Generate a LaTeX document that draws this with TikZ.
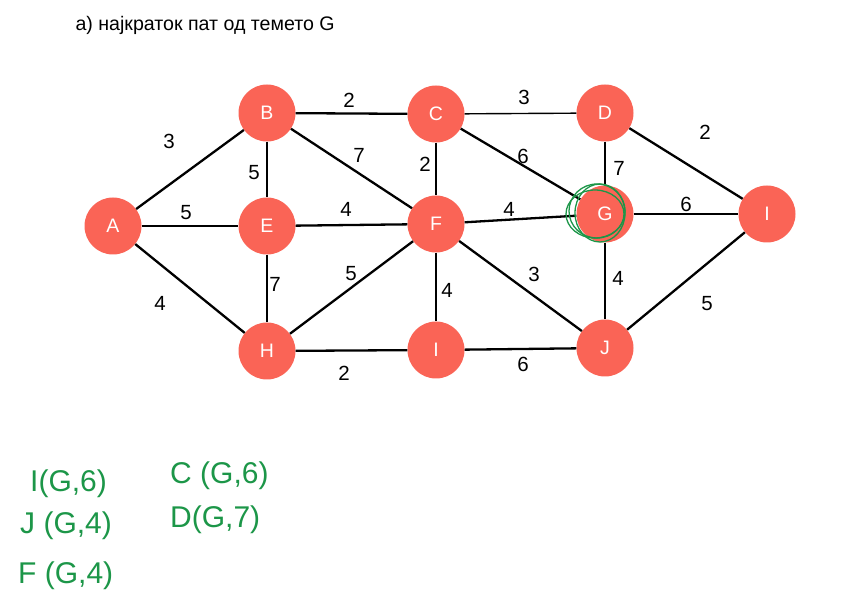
\documentclass[tikz,border=0pt]{standalone}
\usepackage{fontspec}
\setmainfont{Liberation Sans}
\newfontfamily\handfont{Liberation Sans}
\begin{document}
\definecolor{vert}{RGB}{250,100,86}
\definecolor{ink}{RGB}{28,150,72}
\begin{tikzpicture}[x=1pt,y=-1pt,
  vtx/.style={circle,fill=vert,minimum size=57pt,inner sep=0pt,text=white,font=\fontsize{19.5}{19.5}\selectfont},
  heavy/.style={line width=2.3pt},
  light/.style={line width=1.4pt},
  wt/.style={font=\fontsize{20.5}{20.5}\selectfont,inner sep=0pt},
  hand/.style={text=ink,font=\handfont\fontsize{30}{30}\selectfont,inner sep=0pt,anchor=west}]
\useasboundingbox[fill=white] (0,0) rectangle (868,612);
\node[font=\fontsize{19.6}{19.6}\selectfont,anchor=west] (title) at (72,25) {а) најкраток пат од темето G};
% vertices
\node[vtx] (A) at (113,226) {A};
\node[vtx] (B) at (267,113) {B};
\node[vtx] (C) at (436,114) {C};
\node[vtx] (D) at (605,113) {D};
\node[vtx] (E) at (267,226) {E};
\node[vtx] (F) at (436,224) {F};
\node[vtx] (G) at (605,214) {G};
\node[vtx] (I1) at (767,214) {I};
\node[vtx] (H) at (267,351) {H};
\node[vtx] (I2) at (436,350) {I};
\node[vtx] (J) at (605,348) {J};
% edges
\draw[heavy] (A) -- (B);
\draw[heavy] (A) -- (E);
\draw[heavy] (A) -- (H);
\draw[heavy] (B) -- (C);
\draw[heavy] (B) -- (E);
\draw[heavy] (B) -- (F);
\draw[light] (C) -- (D);
\draw[heavy] (C) -- (F);
\draw[heavy] (C) -- (G);
\draw[heavy] (D) -- (I1);
\draw[light] (D) -- (G);
\draw[heavy] (E) -- (F);
\draw[light] (E) -- (H);
\draw[heavy] (F) -- (G);
\draw[heavy] (F) -- (H);
\draw[light] (F) -- (I2);
\draw[heavy] (F) -- (J);
\draw[light] (G) -- (I1);
\draw[light] (G) -- (J);
\draw[heavy] (H) -- (I2);
\draw[heavy] (I2) -- (J);
\draw[heavy] (J) -- (I1);
% weights
\node[wt] (wAB) at (169,141) {3};
\node[wt] (wBC) at (349,100) {2};
\node[wt] (wCD) at (524,97) {3};
\node[wt] (wDI) at (705,132) {2};
\node[wt] (wBE) at (254,173) {5};
\node[wt] (wBF) at (359,155) {7};
\node[wt] (wCF) at (425,164) {2};
\node[wt] (wCG) at (523,156) {6};
\node[wt] (wDG) at (619,168) {7};
\node[wt] (wAE) at (186,213) {5};
\node[wt] (wEF) at (346,209) {4};
\node[wt] (wFG) at (509,209) {4};
\node[wt] (wGI) at (686,204) {6};
\node[wt] (wAH) at (160,303) {4};
\node[wt] (wEH) at (275,284) {7};
\node[wt] (wHF) at (351,274) {5};
\node[wt] (wFI) at (447,290) {4};
\node[wt] (wFJ) at (534,274) {3};
\node[wt] (wGJ) at (618,278) {4};
\node[wt] (wIJ) at (707,304) {5};
\node[wt] (wHI) at (344,373) {2};
\node[wt] (wIJb) at (523,364) {6};
% scribbled ring around the source vertex
\draw[ink,line width=1.3pt] (597,211) ellipse (28 and 27);
\draw[ink,line width=1.3pt] (600,213) ellipse (25 and 29);
\draw[ink,line width=1.3pt] (595,214) ellipse (29 and 24);
% hand-written results
\node[hand] (rI) at (30,484) {I(G,6)};
\node[hand] (rJ) at (20,526) {J (G,4)};
\node[hand] (rF) at (18,576) {F (G,4)};
\node[hand] (rC) at (170,476) {C (G,6)};
\node[hand] (rD) at (170,520) {D(G,7)};
\end{tikzpicture}
\end{document}
